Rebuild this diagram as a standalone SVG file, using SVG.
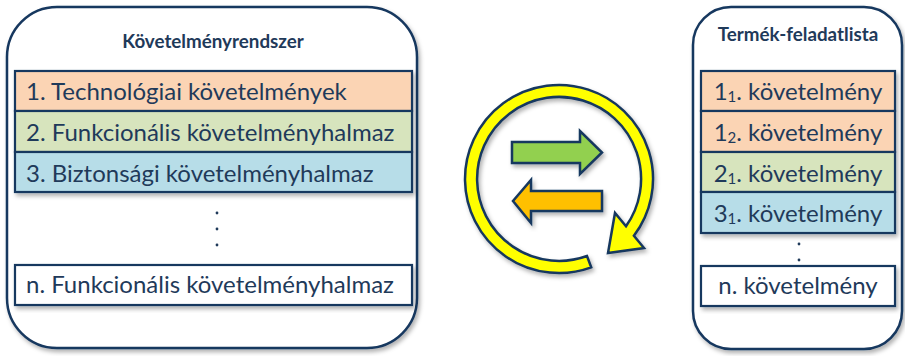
<svg xmlns="http://www.w3.org/2000/svg" width="905" height="356" viewBox="0 0 905 356">
<defs>
<filter id="sh" x="-10%" y="-10%" width="130%" height="130%">
<feDropShadow dx="2" dy="3" stdDeviation="2" flood-color="#000" flood-opacity="0.3"/>
</filter>
<style>
.cont{fill:#fff;stroke:#17375E;stroke-width:2.5;filter:url(#sh)}
.row{stroke:#17375E;stroke-width:2.2}
.r1{fill:#FBD4B4}.r2{fill:#D7E4BD}.r3{fill:#B7DDE8}.r0{fill:#fff}
.t{font-family:Lato,"Liberation Sans",sans-serif;font-size:24px;fill:#1F3A5A}
.title{font-family:Lato,"Liberation Sans",sans-serif;font-size:18.8px;font-weight:bold;fill:#1F3A5A;text-anchor:middle}
.c{text-anchor:middle}
.sub{font-size:15px}
.dot{fill:#1F3A5A}
.ic{stroke:#17375E;stroke-width:2.5;stroke-linejoin:miter;filter:url(#sh)}
</style>
</defs>

<g id="kovetelmenyrendszer">
<rect class="cont" x="7" y="7" width="410" height="341" rx="50" ry="50"/>
<text class="title" x="213" y="48">Követelményrendszer</text>
<g filter="url(#sh)">
<rect class="row r1" x="15" y="71" width="397" height="40"/>
<rect class="row r2" x="15" y="111" width="397" height="41"/>
<rect class="row r3" x="15" y="152" width="397" height="40"/>
</g>
<text class="t" x="26" y="100">1. Technológiai követelmények</text>
<text class="t" x="26" y="141">2. Funkcionális követelményhalmaz</text>
<text class="t" x="26" y="182">3. Biztonsági követelményhalmaz</text>
<circle class="dot" cx="217" cy="213" r="1.4"/>
<circle class="dot" cx="217" cy="229" r="1.4"/>
<circle class="dot" cx="217" cy="245" r="1.4"/>
<rect class="row r0" x="15" y="265" width="397" height="40" filter="url(#sh)"/>
<text class="t" x="26" y="293">n. Funkcionális követelményhalmaz</text>
</g>

<g id="termek-feladatlista">
<rect class="cont" x="693" y="7" width="209" height="342" rx="38" ry="38"/>
<text class="title" x="798" y="41">Termék-feladatlista</text>
<g filter="url(#sh)">
<rect class="row r1" x="701" y="71" width="194" height="40"/>
<rect class="row r1" x="701" y="111" width="194" height="41"/>
<rect class="row r2" x="701" y="152" width="194" height="40"/>
<rect class="row r3" x="701" y="192" width="194" height="41"/>
</g>
<text class="t c" x="798" y="100">1<tspan class="sub" dy="2">1</tspan><tspan dy="-2">. követelmény</tspan></text>
<text class="t c" x="798" y="141">1<tspan class="sub" dy="2">2</tspan><tspan dy="-2">. követelmény</tspan></text>
<text class="t c" x="798" y="182">2<tspan class="sub" dy="2">1</tspan><tspan dy="-2">. követelmény</tspan></text>
<text class="t c" x="798" y="222">3<tspan class="sub" dy="2">1</tspan><tspan dy="-2">. követelmény</tspan></text>
<circle class="dot" cx="799" cy="244" r="1.4"/>
<circle class="dot" cx="799" cy="260" r="1.4"/>
<rect class="row r0" x="701" y="266" width="194" height="40" filter="url(#sh)"/>
<text class="t c" x="798" y="294">n. követelmény</text>
</g>

<g id="connectors">
<path class="ic" fill="#FFFF00" d="M591.2 267.3 A94 94 0 1 1 633.9 235.8 L644 248 L608 253 L615 213 L626 226.3 A82 82 0 1 0 587 256 Z"/>
<polygon class="ic" fill="#92D050" points="512,142 580,142 580,131 602,152.5 580,174 580,163 512,163"/>
<polygon class="ic" fill="#FFC000" points="602,191 531,191 531,180 513,201 531,223 531,211 602,211"/>
</g>
</svg>
